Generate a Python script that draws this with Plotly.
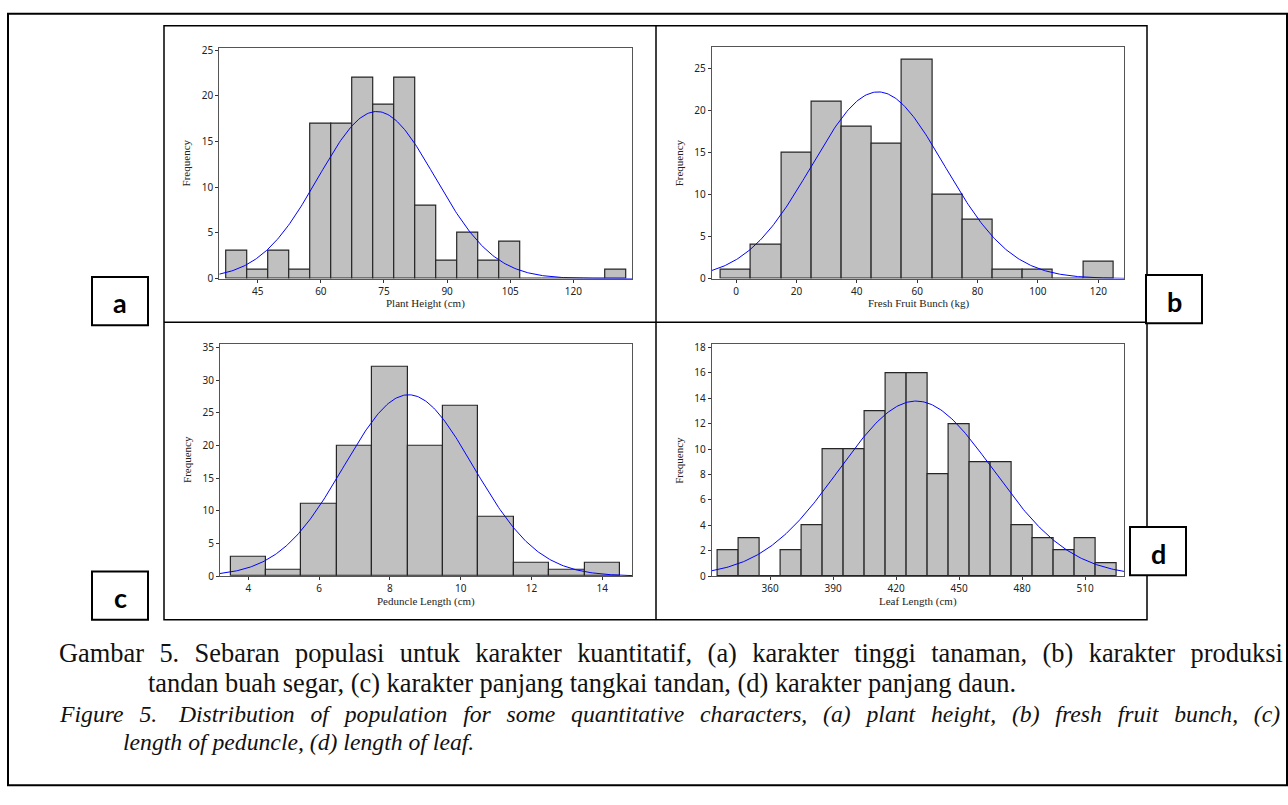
import numpy as np
import plotly.graph_objects as go

W, H = 1288, 805

# ---------------- data ----------------
a_centers = [40, 45, 50, 55, 60, 65, 70, 75, 80, 85, 90, 95, 100, 105, 110, 115, 120, 125, 130]
a_counts = [3, 1, 3, 1, 17, 17, 22, 19, 22, 8, 2, 5, 2, 4, 0, 0, 0, 0, 1]
a_xticks = [45, 60, 75, 90, 105, 120]
a_yticks = [0, 5, 10, 15, 20, 25]

b_centers = [0, 10, 20, 30, 40, 50, 60, 70, 80, 90, 100, 110, 120]
b_counts = [1, 4, 15, 21, 18, 16, 26, 10, 7, 1, 1, 0, 2]
b_xticks = [0, 20, 40, 60, 80, 100, 120]
b_yticks = [0, 5, 10, 15, 20, 25]

c_centers = [4, 5, 6, 7, 8, 9, 10, 11, 12, 13, 14]
c_counts = [3, 1, 11, 20, 32, 20, 26, 9, 2, 1, 2]
c_xticks = [4, 6, 8, 10, 12, 14]
c_yticks = [0, 5, 10, 15, 20, 25, 30, 35]

d_centers = [340, 350, 360, 370, 380, 390, 400, 410, 420, 430, 440, 450, 460, 470, 480, 490, 500, 510, 520]
d_counts = [2, 3, 0, 2, 4, 10, 10, 13, 16, 16, 8, 12, 9, 9, 4, 3, 2, 3, 1]
d_xticks = [360, 390, 420, 450, 480, 510]
d_yticks = [0, 2, 4, 6, 8, 10, 12, 14, 16, 18]

x_titles = ["Plant Height (cm)", "Fresh Fruit Bunch (kg)", "Peduncle Length (cm)", "Leaf Length (cm)"]
panel_letters = ["a", "b", "c", "d"]

caption_id_1 = "Gambar 5. Sebaran populasi untuk karakter kuantitatif, (a) karakter tinggi tanaman, (b) karakter produksi"
caption_id_2 = "tandan buah segar, (c) karakter panjang tangkai tandan, (d) karakter panjang daun."
caption_en_1 = "Figure 5.  Distribution of population for some quantitative characters, (a) plant height, (b) fresh fruit bunch, (c)"
caption_en_2 = "length of peduncle, (d) length of leaf."

# ---------------- layout helpers (pixel geometry) ----------------
def px(x):
    return x / W

def py(y):
    return 1 - y / H

def justify(text, filler):
    # widen each word gap with non-collapsing spaces (justified paragraph line)
    return text.replace("  ", " \u00a0").replace(" ", " " + filler)

panels = [
    dict(centers=a_centers, counts=a_counts, xt=a_xticks, yt=a_yticks, bw=5,
         xr=[35.87, 134.0], yr=[0, 25.26], box=(219.3, 43.3, 632.3, 277.7)),
    dict(centers=b_centers, counts=b_counts, xt=b_xticks, yt=b_yticks, bw=10,
         xr=[-8.05, 128.6], yr=[0, 27.54], box=(711.7, 42.3, 1124.3, 277.7)),
    dict(centers=c_centers, counts=c_counts, xt=c_xticks, yt=c_yticks, bw=1,
         xr=[3.2, 14.85], yr=[0, 35.56], box=(220.0, 344.0, 632.3, 579.7)),
    dict(centers=d_centers, counts=d_counts, xt=d_xticks, yt=d_yticks, bw=10,
         xr=[332.2, 528.7], yr=[0, 18.26], box=(711.7, 344.3, 1124.3, 579.7)),
]

fig = go.Figure()
layout = dict(
    width=W, height=H, margin=dict(l=0, r=0, t=0, b=0),
    paper_bgcolor="white", plot_bgcolor="white", showlegend=False,
)
annotations = []
shapes = []

tick_font = dict(family="Noto Sans, DejaVu Sans, sans-serif", size=10, color="#222")
title_font = dict(family="Liberation Serif, Times New Roman, serif", size=11, color="#222")

for i, p in enumerate(panels):
    k = "" if i == 0 else str(i + 1)
    xa, ya = "x" + k, "y" + k
    centers = np.array(p["centers"], float)
    counts = np.array(p["counts"], float)
    n = counts.sum()
    mean = (centers * counts).sum() / n
    sd = np.sqrt((counts * (centers - mean) ** 2).sum() / (n - 1))

    fig.add_trace(go.Bar(
        x=p["centers"], y=p["counts"], width=p["bw"], xaxis=xa, yaxis=ya,
        marker=dict(color="#c0c0c0", line=dict(color="#262626", width=1.2)),
        hoverinfo="x+y",
    ))
    xs = np.linspace(p["xr"][0], p["xr"][1], 300)
    ys = n * p["bw"] / (sd * np.sqrt(2 * np.pi)) * np.exp(-0.5 * ((xs - mean) / sd) ** 2)
    fig.add_trace(go.Scatter(x=xs, y=ys, mode="lines", xaxis=xa, yaxis=ya,
                             line=dict(color="#0000ff", width=1), hoverinfo="skip"))

    x0, y0, x1, y1 = p["box"]
    layout["xaxis" + k] = dict(
        domain=[px(x0), px(x1)], range=p["xr"], anchor=ya,
        tickvals=p["xt"], ticks="outside", ticklen=3, tickcolor="#333",
        showline=True, linecolor="#555", linewidth=1, mirror=True,
        showgrid=False, zeroline=False, tickfont=tick_font, fixedrange=True,
    )
    layout["yaxis" + k] = dict(
        domain=[py(y1), py(y0)], range=p["yr"], anchor=xa,
        tickvals=p["yt"], ticks="outside", ticklen=3, tickcolor="#333",
        showline=True, linecolor="#555", linewidth=1, mirror=True,
        showgrid=False, zeroline=False, tickfont=tick_font, fixedrange=True,
    )
    annotations.append(dict(
        text=x_titles[i], xref="paper", yref="paper",
        x=px((x0 + x1) / 2), y=py(y1 + 25.6), xanchor="center", yanchor="middle",
        showarrow=False, font=title_font,
    ))
    annotations.append(dict(
        text="Frequency", xref="paper", yref="paper", textangle=-90,
        x=px(x0 - 33), y=py((y0 + y1) / 2), xanchor="center", yanchor="middle",
        showarrow=False, font=title_font,
    ))

# outer border and panel frame
shapes.append(dict(type="rect", xref="paper", yref="paper",
                   x0=px(8), y0=py(792), x1=px(1287), y1=py(9),
                   line=dict(color="black", width=2)))
shapes.append(dict(type="rect", xref="paper", yref="paper",
                   x0=px(164), y0=py(624), x1=px(1147), y1=py(21),
                   line=dict(color="black", width=1.5)))
shapes.append(dict(type="line", xref="paper", yref="paper",
                   x0=px(656), y0=py(21), x1=px(656), y1=py(624),
                   line=dict(color="black", width=1.5)))
shapes.append(dict(type="line", xref="paper", yref="paper",
                   x0=px(164), y0=py(322), x1=px(1147), y1=py(322),
                   line=dict(color="black", width=1.5)))

# letter boxes
letter_boxes = [(92, 276, 148, 325), (1146, 274, 1202, 323), (92, 575, 148, 624), (1130, 530, 1186, 579)]
for letter, (bx0, by0, bx1, by1) in zip(panel_letters, letter_boxes):
    shapes.append(dict(type="rect", xref="paper", yref="paper",
                       x0=px(bx0), y0=py(by1), x1=px(bx1), y1=py(by0),
                       fillcolor="white", line=dict(color="black", width=2)))
    annotations.append(dict(
        text="<b>%s</b>" % letter, xref="paper", yref="paper",
        x=px((bx0 + bx1) / 2), y=py((by0 + by1) / 2 + 2), xanchor="center", yanchor="middle",
        showarrow=False, font=dict(family="Lato, Roboto, sans-serif", size=27, color="black"),
    ))

cap_font = dict(family="Liberation Serif, serif", size=26.4, color="#111")
cap_font_i = dict(family="Liberation Serif, serif", size=23.7, color="#111")
annotations += [
    dict(text=justify(caption_id_1, "\u00a0\u200a"), xref="paper", yref="paper", x=px(57), y=py(658),
         xanchor="left", yanchor="middle", showarrow=False, font=cap_font),
    dict(text=caption_id_2, xref="paper", yref="paper", x=px(146), y=py(688),
         xanchor="left", yanchor="middle", showarrow=False, font=cap_font),
    dict(text="<i>" + justify(caption_en_1, "\u00a0\u200a\u200a") + "</i>", xref="paper", yref="paper",
         x=px(57), y=py(720), xanchor="left", yanchor="middle", showarrow=False, font=cap_font_i),
    dict(text="<i>" + caption_en_2 + "</i>", xref="paper", yref="paper", x=px(121), y=py(748),
         xanchor="left", yanchor="middle", showarrow=False, font=cap_font_i),
]

layout["annotations"] = annotations
layout["shapes"] = shapes
layout["bargap"] = 0
fig.update_layout(**layout)
fig.write_html("out.html")
